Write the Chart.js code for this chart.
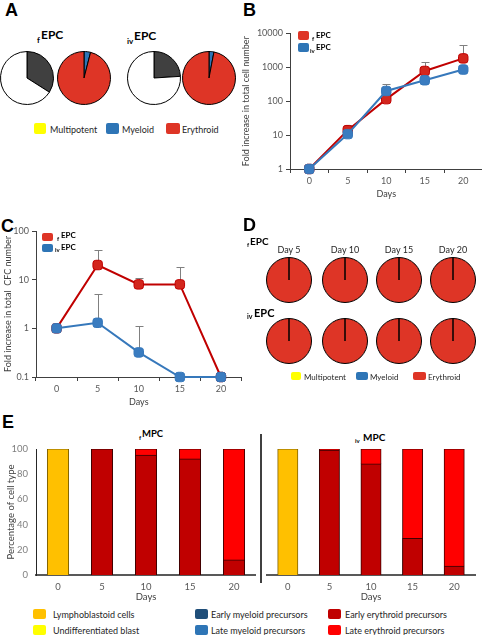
<!DOCTYPE html>
<html><head><meta charset="utf-8">
<script src="https://cdn.jsdelivr.net/npm/chart.js@4.4.1/dist/chart.umd.min.js"></script>
<style>
html,body{margin:0;padding:0;background:#fff;}
#root{position:relative;width:482px;height:635px;overflow:hidden;font-family:Lato,"Open Sans",sans-serif;}
canvas{position:absolute;}
.t{position:absolute;white-space:nowrap;line-height:1;}
.sq{position:absolute;border-radius:2px;}
.div{position:absolute;background:#404040;}
</style></head>
<body><div id="root"></div>
<script>
// ---------------- DATA ----------------
const days = ['0','5','10','15','20'];
// Panel A
const colonyLabels = ['Colony-forming','Non colony-forming'];
const A_fEPC_colony = [34, 66];
const A_ivEPC_colony = [24, 76];
const lineageLabels = ['Multipotent','Myeloid','Erythroid'];
const A_fEPC_lineage = [0, 4, 96];
const A_ivEPC_lineage = [0, 3, 97];
// Panel B (fold increase in total cell number)
const B_yTicks = [1, 10, 100, 1000, 10000];
const B_fEPC = [1, 14, 115, 780, 1830];
const B_fEPC_errUp = [1, 20, 115, 1400, 4400];
const B_ivEPC = [1, 10.7, 200, 415, 860];
const B_ivEPC_errUp = [1, 10.7, 330, 415, 860];
// Panel C (fold increase in total CFC number)
const C_yTicks = [0.1, 1, 10, 100];
const C_fEPC = [1, 20, 8, 8, 0.1];
const C_fEPC_errUp = [1, 41, 11, 18, 0.1];
const C_ivEPC = [1, 1.3, 0.32, 0.1, 0.1];
const C_ivEPC_errUp = [1, 5, 1.1, 0.1, 0.1];
// Panel D
const D_days = ['Day 5','Day 10','Day 15','Day 20'];
const D_fEPC_multipotent = [0, 0, 0, 0];
const D_fEPC_myeloid = [0, 0, 0, 0];
const D_fEPC_erythroid = [100, 100, 100, 100];
const D_ivEPC_multipotent = [0, 0, 0, 0];
const D_ivEPC_myeloid = [0, 0, 0, 0];
const D_ivEPC_erythroid = [100, 100, 100, 100];
// Panel E (percentage of cell type)
const E_yTicks = [0, 20, 40, 60, 80, 100];
const cellTypes = ['Lymphoblastoid cells','Undifferentiated blast','Early myeloid precursors','Late myeloid precursors','Early erythroid precursors','Late erythroid precursors'];
const E_f_lympho   = [100, 0, 0, 0, 0];
const E_f_undiff   = [0, 0, 0, 0, 0];
const E_f_earlyMy  = [0, 0, 0, 0, 0];
const E_f_lateMy   = [0, 0, 0, 0, 0];
const E_f_earlyEry = [0, 100, 95, 92, 12];
const E_f_lateEry  = [0, 0, 5, 8, 88];
const E_iv_lympho   = [100, 0, 0, 0, 0];
const E_iv_undiff   = [0, 0, 0, 0, 0];
const E_iv_earlyMy  = [0, 0, 0, 0, 0];
const E_iv_lateMy   = [0, 0, 0, 0, 0];
const E_iv_earlyEry = [0, 99, 88, 29, 7];
const E_iv_lateEry  = [0, 1, 12, 71, 93];

// ---------------- STYLE ----------------
const FONT = 'Lato';
const RED = '#de3526', BLUE = '#2e75b6', YELLOW = '#ffff00', DARK = '#404040';
const cellColors = ['#ffc000','#ffff00','#1f4e79','#2e75b6','#c00000','#ff0000'];
const cellBorders = ['#7f6000','#7f7f00','#0f2740','#1f4e79','#3a0000','#4a0000'];
const root = document.getElementById('root');

function addCanvas(x, y, w, h) {
  const c = document.createElement('canvas');
  c.width = w; c.height = h;
  c.style.left = x + 'px'; c.style.top = y + 'px';
  c.style.width = w + 'px'; c.style.height = h + 'px';
  root.appendChild(c);
  return c;
}
function txt(x, base, size, text, opt) {
  opt = opt || {};
  const d = document.createElement('div');
  d.className = 't';
  d.textContent = text;
  d.style.fontSize = size + 'px';
  d.style.fontFamily = opt.family || FONT;
  d.style.fontWeight = opt.bold ? 'bold' : 'normal';
  d.style.color = opt.color || '#000';
  d.style.left = x + 'px';
  d.style.top = (base - 0.887 * size) + 'px';
  if (opt.center) d.style.transform = 'translateX(-50%)';
  root.appendChild(d);
}
function sq(x, y, w, h, color) {
  const d = document.createElement('div');
  d.className = 'sq';
  d.style.left = x + 'px'; d.style.top = y + 'px';
  d.style.width = w + 'px'; d.style.height = h + 'px';
  d.style.background = color;
  root.appendChild(d);
}
const base = {responsive:false, animation:false, devicePixelRatio:1, events:[]};

function pie(cx, cy, r, labels, data, colors) {
  const s = Math.round(2 * r + 2);
  const c = addCanvas(Math.round(cx - s / 2), Math.round(cy - s / 2), s, s);
  new Chart(c, {
    type: 'pie',
    data: {labels, datasets: [{data, backgroundColor: colors, borderColor: '#000', borderWidth: 1}]},
    options: Object.assign({}, base, {layout:{padding:0}, plugins:{legend:{display:false}, tooltip:{enabled:false}}})
  });
}

const errorBars = {
  id: 'errorBars',
  beforeDatasetsDraw(chart, args, opts) {
    const ctx = chart.ctx, ys = chart.scales.y;
    chart.data.datasets.forEach((ds, i) => {
      if (!ds.errUp) return;
      const meta = chart.getDatasetMeta(i);
      meta.data.forEach((pt, j) => {
        const top = ds.errUp[j];
        if (top == null || top <= ds.data[j]) return;
        const yt = Math.round(ys.getPixelForValue(top)) + 0.5;
        const x = Math.round(pt.x) + 0.5;
        ctx.save();
        ctx.strokeStyle = opts.color || '#7f7f7f';
        ctx.lineWidth = 1;
        ctx.beginPath();
        ctx.moveTo(x, pt.y); ctx.lineTo(x, yt);
        ctx.moveTo(x - 4, yt); ctx.lineTo(x + 4, yt);
        ctx.stroke();
        ctx.restore();
      });
    });
  }
};

function lineChart(canvas, cfg) {
  const ds = (label, data, err, line, fill, order) => ({
    label, data, errUp: err, borderColor: line, backgroundColor: fill,
    pointBackgroundColor: fill, pointBorderColor: line, borderWidth: 2,
    pointStyle: 'rectRounded', pointRadius: 5.5, pointBorderWidth: 1, clip: false, order
  });
  return new Chart(canvas, {
    type: 'line',
    data: {labels: days, datasets: [
      ds('fEPC', cfg.f, cfg.fErr, '#c00000', '#d3261d', 2),
      ds('ivEPC', cfg.iv, cfg.ivErr, '#3678bb', '#3a7cc0', 1)
    ]},
    options: Object.assign({}, base, {
      layout: {padding: {top: cfg.padTop, left: 0, right: 0, bottom: 0}},
      plugins: {legend: {display: false}, tooltip: {enabled: false}, errorBars: {color: '#808080'}},
      scales: {
        x: {type: 'category', offset: true,
            grid: {offset: true, drawOnChartArea: false, drawTicks: true, tickLength: 4, color: DARK},
            border: {color: DARK, width: 1},
            ticks: {font: {family: FONT, size: 9}, color: '#595959', padding: 3, maxRotation: 0},
            title: {display: true, text: 'Days', font: {family: FONT, size: 9}, color: DARK, padding: 0},
            afterFit(s) { s.height = cfg.xH; }},
        y: {type: 'logarithmic', min: cfg.yTicks[0], max: cfg.yTicks[cfg.yTicks.length - 1],
            afterBuildTicks(s) { s.ticks = cfg.yTicks.map(v => ({value: v})); },
            grid: {drawOnChartArea: false, drawTicks: true, tickLength: 4, color: DARK},
            border: {color: DARK, width: 1},
            ticks: {font: {family: FONT, size: 9}, color: '#595959', padding: 3, callback: v => String(v)},
            title: {display: true, text: cfg.yTitle, font: {family: FONT, size: 9}, color: DARK, padding: {top: cfg.titlePad, bottom: 0}},
            afterFit(s) { s.width = cfg.yW; }}
      }
    }),
    plugins: [errorBars]
  });
}

function barChart(canvas, cfg) {
  const sets = cfg.series.map((d, i) => ({
    label: cellTypes[i], data: d, backgroundColor: cellColors[i], borderColor: cellBorders[i],
    borderWidth: c => (c.raw ? 1 : 0), borderSkipped: 'start', inflateAmount: c => (c.raw ? 0.5 : 0),
    barPercentage: 0.48, categoryPercentage: 1.0
  }));
  return new Chart(canvas, {
    type: 'bar',
    data: {labels: days, datasets: sets},
    options: Object.assign({}, base, {
      layout: {padding: {top: 9, left: cfg.padL, right: cfg.padR, bottom: 0}},
      plugins: {legend: {display: false}, tooltip: {enabled: false}},
      scales: {
        x: {stacked: true, grid: {display: false, drawTicks: false}, border: {color: '#595959', width: 2},
            ticks: {font: {family: FONT, size: 9.5}, color: '#595959', padding: 6, maxRotation: 0},
            title: {display: true, text: 'Days', font: {family: FONT, size: 9.5}, color: DARK, padding: 0},
            afterFit(s) { s.height = 28; }},
        y: {stacked: true, display: cfg.showY, min: 0, max: 100,
            afterBuildTicks(s) { s.ticks = E_yTicks.map(v => ({value: v})); },
            grid: {display: false, drawTicks: true, tickLength: 5}, border: {color: '#262626', width: 1},
            ticks: {font: {family: FONT, size: 9.5}, color: '#7f7f7f', padding: 3},
            title: {display: true, text: 'Percentage of cell type', font: {family: FONT, size: 9.5}, color: DARK, padding: {top: 5, bottom: 0}},
            afterFit(s) { s.width = cfg.showY ? 36 : 0; }}
      }
    })
  });
}

// ---------------- PANEL A ----------------
txt(5, 17, 18, 'A', {bold: true, family: '"Liberation Sans", Arial, sans-serif'});
txt(37, 43, 8, 'f', {bold: true});
txt(41, 40, 12, 'EPC', {bold: true});
txt(127, 44, 8, 'iv', {bold: true});
txt(134, 41, 12, 'EPC', {bold: true});
pie(27, 77.5, 26, colonyLabels, A_fEPC_colony, [DARK, '#ffffff']);
pie(84, 77.5, 26, lineageLabels, A_fEPC_lineage, [YELLOW, BLUE, RED]);
pie(154, 78, 26, colonyLabels, A_ivEPC_colony, [DARK, '#ffffff']);
pie(209, 78, 26, lineageLabels, A_ivEPC_lineage, [YELLOW, BLUE, RED]);
sq(34, 123, 12, 11, YELLOW); txt(50, 133, 9, lineageLabels[0], {color: '#262626'});
sq(106, 123, 13, 11, BLUE);  txt(122, 133, 9, lineageLabels[1], {color: '#262626'});
sq(166, 123, 14, 11, RED);   txt(182, 133, 9, lineageLabels[2], {color: '#262626'});

// ---------------- PANEL B ----------------
txt(243, 17, 18, 'B', {bold: true, family: '"Liberation Sans", Arial, sans-serif'});
lineChart(addCanvas(241, 25, 248, 174), {
  f: B_fEPC, fErr: B_fEPC_errUp, iv: B_ivEPC, ivErr: B_ivEPC_errUp, yTicks: B_yTicks,
  yTitle: 'Fold increase in total cell number', padTop: 8, xH: 30, yW: 49, titlePad: 0
});
sq(298, 31, 11, 9, RED); txt(312, 41, 6, 'f', {bold: true}); txt(316, 38.5, 8, 'EPC', {bold: true});
sq(298, 43, 11, 9, BLUE); txt(310, 53, 6, 'iv', {bold: true}); txt(316, 50.5, 8, 'EPC', {bold: true});

// ---------------- PANEL C ----------------
txt(1, 233, 18, 'C', {bold: true, family: '"Liberation Sans", Arial, sans-serif'});
lineChart(addCanvas(0, 220, 248, 187), {
  f: C_fEPC, fErr: C_fEPC_errUp, iv: C_ivEPC, ivErr: C_ivEPC_errUp, yTicks: C_yTicks,
  yTitle: 'Fold increase in total  CFC number', padTop: 11, xH: 30, yW: 36, titlePad: 3
});
sq(42, 233, 11, 8, RED); txt(57, 241, 6, 'f', {bold: true}); txt(61, 238.5, 8, 'EPC', {bold: true});
sq(42, 244, 11, 8, BLUE); txt(55, 252, 6, 'iv', {bold: true}); txt(61, 250, 8, 'EPC', {bold: true});

// ---------------- PANEL D ----------------
txt(243, 232, 18, 'D', {bold: true, family: '"Liberation Sans", Arial, sans-serif'});
txt(247, 247, 6, 'f', {bold: true}); txt(250, 245, 10, 'EPC', {bold: true});
txt(247, 319, 7, 'iv', {bold: true}); txt(254, 317, 11, 'EPC', {bold: true});
const dX = [289, 345, 399, 453];
D_days.forEach((d, i) => {
  txt(dX[i], 253, 9, d, {center: true, color: '#262626'});
  pie(dX[i], 280, 22, lineageLabels, [D_fEPC_multipotent[i], D_fEPC_myeloid[i], D_fEPC_erythroid[i]], [YELLOW, BLUE, RED]);
  pie(dX[i], 341, 22, lineageLabels, [D_ivEPC_multipotent[i], D_ivEPC_myeloid[i], D_ivEPC_erythroid[i]], [YELLOW, BLUE, RED]);
});
sq(291, 372, 10, 8, YELLOW); txt(304, 380, 8, lineageLabels[0], {color: '#262626'});
sq(356, 372, 12, 8, BLUE);   txt(370, 380, 8, lineageLabels[1], {color: '#262626'});
sq(413, 372, 13, 8, RED);    txt(428, 380, 8, lineageLabels[2], {color: '#262626'});

// ---------------- PANEL E ----------------
txt(2, 429, 18, 'E', {bold: true, family: '"Liberation Sans", Arial, sans-serif'});
txt(139, 440, 6, 'f', {bold: true}); txt(142, 437.5, 9.5, 'MPC', {bold: true});
txt(355, 443, 6, 'iv', {bold: true}); txt(363, 441, 10, 'MPC', {bold: true});
barChart(addCanvas(0, 440, 256, 163), {
  series: [E_f_lympho, E_f_undiff, E_f_earlyMy, E_f_lateMy, E_f_earlyEry, E_f_lateEry],
  showY: true, padL: 0, padR: 0
});
barChart(addCanvas(241, 440, 241, 163), {
  series: [E_iv_lympho, E_iv_undiff, E_iv_earlyMy, E_iv_lateMy, E_iv_earlyEry, E_iv_lateEry],
  showY: false, padL: 26, padR: 7
});
(function(){ const d = document.createElement('div'); d.className = 'div';
  d.style.left = '260px'; d.style.top = '434px'; d.style.width = '1.5px'; d.style.height = '149px'; root.appendChild(d); })();
const legX = [[33, 53], [195, 211], [328, 345]];
[[0, 2, 4], [1, 3, 5]].forEach((row, r) => {
  row.forEach((k, col) => {
    const y0 = r === 0 ? 609 : 625;
    sq(legX[col][0], y0, 13, 10, cellColors[k]);
    txt(legX[col][1], r === 0 ? 618 : 634, 9, cellTypes[k], {color: '#262626'});
  });
});
</script>
</body></html>
